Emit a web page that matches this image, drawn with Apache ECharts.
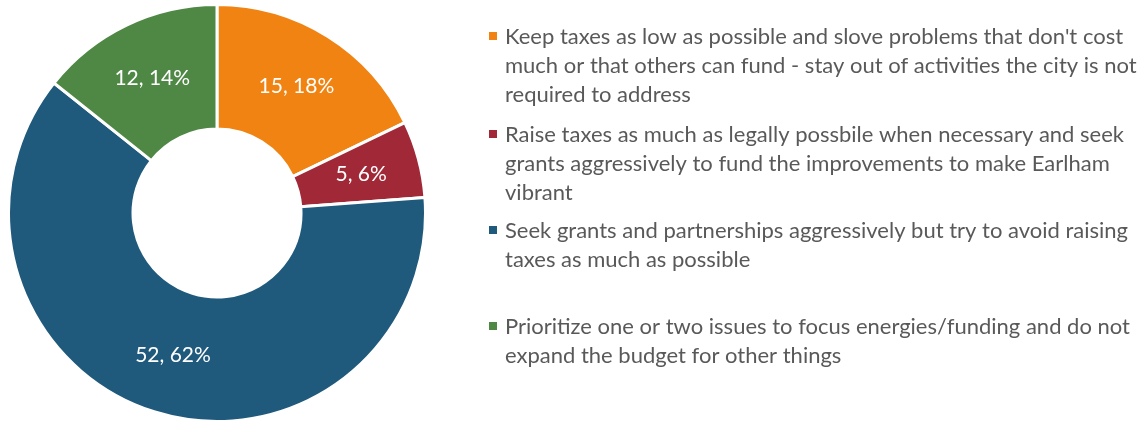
<!DOCTYPE html>
<html>
<head>
<meta charset="utf-8">
<title>Budget priorities</title>
<script src="https://cdn.jsdelivr.net/npm/echarts@6/dist/echarts.min.js"></script>
<style>
  html, body { margin: 0; padding: 0; background: #ffffff; }
  #chart { width: 1145px; height: 421px; }
</style>
</head>
<body>
<div id="chart"></div>
<script>
// Survey answers (legend text, wrapped as shown) and response counts
const categories = [
  "Keep taxes as low as possible and slove problems that don't cost\nmuch or that others can fund - stay out of activities the city is not\nrequired to address",
  "Raise taxes as much as legally possbile when necessary and seek\ngrants aggressively to fund the improvements to make Earlham\nvibrant",
  "Seek grants and partnerships aggressively but try to avoid raising\ntaxes as much as possible",
  "Prioritize one or two issues to focus energies/funding and do not\nexpand the budget for other things"
];
const counts = [15, 5, 52, 12];

const colors = ['#F08311', '#A12937', '#1F597C', '#4F8744'];
const LINE_H = 29;
const legendTops = [22, 120, 216, 312];

const chart = echarts.init(document.getElementById('chart'), null, { renderer: 'canvas' });

// One legend block per answer so each block sits at its own height;
// the icon path keeps the square level with the first text line.
const legends = categories.map((name, i) => {
  const lines = name.split('\n').length;
  const h = lines * LINE_H;
  const o = LINE_H / 2 - 4.5;
  return {
    left: 489,
    top: legendTops[i],
    padding: 0,
    orient: 'vertical',
    selectedMode: false,
    itemWidth: 8,
    itemHeight: h,
    itemStyle: { borderWidth: 0 },
    data: [{
      name: name,
      icon: `path://M0,0L0,0M0,${h}L0,${h}M0,${o}H8V${o + 8}H0Z`
    }],
    textStyle: {
      fontFamily: 'Lato',
      fontSize: 22,
      color: '#595959',
      lineHeight: LINE_H,
      padding: [0, 0, 0, 3]
    }
  };
});

chart.setOption({
  animation: false,
  color: colors,
  legend: legends,
  series: [{
    type: 'pie',
    center: [217, 213],
    radius: [84, 208.5],
    startAngle: 90,
    clockwise: true,
    avoidLabelOverlap: false,
    itemStyle: { borderColor: '#ffffff', borderWidth: 3 },
    label: {
      show: true,
      position: 'inside',
      color: '#ffffff',
      fontFamily: 'Lato',
      fontSize: 21,
      formatter: p => `${p.value}, ${Math.round(p.percent)}%`
    },
    labelLine: { show: false },
    emphasis: { disabled: true },
    data: categories.map((n, i) => ({ name: n, value: counts[i] }))
  }]
});
</script>
</body>
</html>
